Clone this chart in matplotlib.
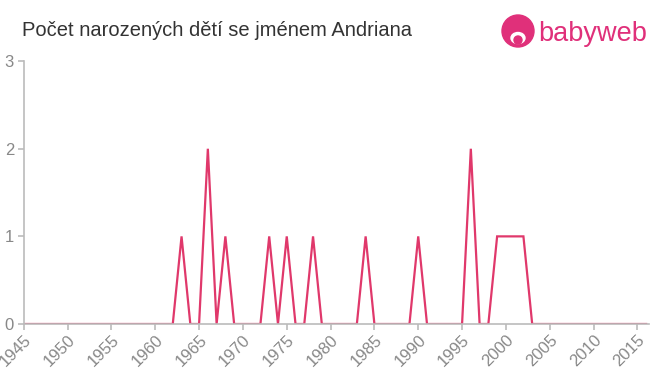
import numpy as np
import matplotlib
matplotlib.use('Agg')
import matplotlib.pyplot as plt
from matplotlib.patches import Circle, Ellipse

plt.rcParams['font.family'] = ['Liberation Sans', 'DejaVu Sans']

# yearly counts, 1945-2016
years = list(range(1945, 2017))
nonzero = {1963: 1, 1966: 2, 1968: 1, 1973: 1, 1975: 1, 1978: 1,
           1984: 1, 1990: 1, 1996: 2, 1999: 1, 2000: 1, 2001: 1, 2002: 1}
counts = [nonzero.get(y, 0) for y in years]

x_ticks = list(range(1945, 2020, 5))
y_ticks = [0, 1, 2, 3]

title = 'Počet narozených dětí se jménem Andriana'
line_color = '#e0386b'
axis_color = '#bbbbbb'
label_color = '#888888'
logo_color = '#e0307a'

fig = plt.figure(figsize=(6.6, 3.75), dpi=100)
ax = fig.add_axes([0.036, 0.136, 0.947, 0.701])

ax.plot(years, counts, color=line_color, linewidth=1.6, solid_joinstyle='miter')

ax.set_xlim(1945, 2016.3)
ax.set_ylim(0, 3)
ax.set_xticks(x_ticks)
ax.set_xticklabels([str(t) for t in x_ticks], rotation=45, ha='right',
                   va='top', rotation_mode='anchor')
ax.set_yticks(y_ticks)

for side in ['top', 'right']:
    ax.spines[side].set_visible(False)
for side in ['left', 'bottom']:
    ax.spines[side].set_color(axis_color)
    ax.spines[side].set_linewidth(1.2)
ax.tick_params(axis='both', colors=axis_color, labelcolor=label_color,
               labelsize=12, length=4, width=1.2)
ax.tick_params(axis='x', pad=2)
ax.tick_params(axis='y', pad=3)

fig.text(0.033, 0.918, title, fontsize=14.5, color='#333333', va='center')

# logo: pink disc with a simple white face, then the word mark
fig.patches.append(Circle((518, 375 - 31), 16, transform=None,
                          color=logo_color, zorder=5))
fig.patches.append(Ellipse((518, 375 - 38), 14, 11, transform=None,
                           color='white', zorder=6))
fig.patches.append(Circle((518, 375 - 40), 4, transform=None,
                          color=logo_color, zorder=7))
fig.text(538 / 660, 1 - 34 / 375, 'babyweb', fontsize=19.5, color=logo_color,
         va='center', ha='left')

fig.savefig('out.png', dpi=100)
